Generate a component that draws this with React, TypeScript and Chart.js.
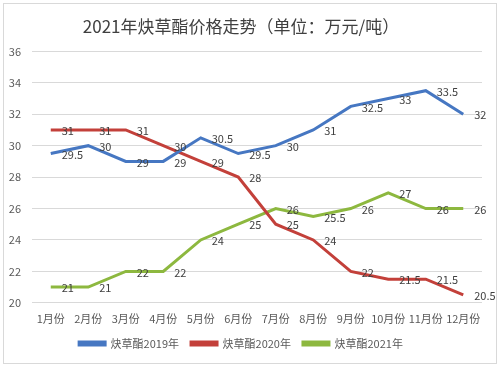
import React, { useEffect, useRef } from "react";
import { Chart, registerables } from "chart.js";

Chart.register(...registerables);

const categories = ["1月份", "2月份", "3月份", "4月份", "5月份", "6月份", "7月份", "8月份", "9月份", "10月份", "11月份", "12月份"];
const series2019 = [29.5, 30, 29, 29, 30.5, 29.5, 30, 31, 32.5, 33, 33.5, 32];
const series2020 = [31, 31, 31, 30, 29, 28, 25, 24, 22, 21.5, 21.5, 20.5];
const series2021 = [21, 21, 22, 22, 24, 25, 26, 25.5, 26, 27, 26, 26];
const seriesNames = ["炔草酯2019年", "炔草酯2020年", "炔草酯2021年"];
const yTicks = { min: 20, max: 36, step: 2 };
const titleText = "2021年炔草酯价格走势（单位：万元/吨）";

const FONT = "'Noto Sans CJK SC', 'Noto Sans', sans-serif";

const labelPlugin = {
  id: "pointLabels",
  afterDatasetsDraw(chart: any) {
    const ctx = chart.ctx;
    ctx.save();
    ctx.font = `11px ${FONT}`;
    ctx.fillStyle = "#404040";
    ctx.textAlign = "left";
    ctx.textBaseline = "middle";
    chart.data.datasets.forEach((ds: any, i: number) => {
      const meta = chart.getDatasetMeta(i);
      meta.data.forEach((pt: any, j: number) => {
        ctx.fillText(String(ds.data[j]), pt.x + 11, pt.y + 1);
      });
    });
    ctx.restore();
  },
};

const framePlugin = {
  id: "frame",
  beforeDraw(chart: any) {
    const ctx = chart.ctx;
    ctx.save();
    ctx.fillStyle = "#ffffff";
    ctx.fillRect(0, 0, chart.width, chart.height);
    ctx.strokeStyle = "#d9d9d9";
    ctx.lineWidth = 1;
    ctx.strokeRect(3.5, 3.5, chart.width - 7, chart.height - 7);
    ctx.restore();
  },
};

export default function App() {
  const ref = useRef<HTMLCanvasElement>(null);
  useEffect(() => {
    document.body.style.margin = "0";
    const colors = ["#4677C2", "#C3403A", "#8DB83F"];
    const data = [series2019, series2020, series2021];
    const chart = new Chart(ref.current!, {
      type: "line",
      data: {
        labels: categories,
        datasets: data.map((d, i) => ({
          label: seriesNames[i],
          data: d,
          borderColor: colors[i],
          backgroundColor: colors[i],
          borderWidth: 3,
          pointRadius: 0,
          tension: 0,
        })),
      },
      options: {
        animation: false,
        responsive: false,
        devicePixelRatio: 1,
        layout: { padding: { left: 0, right: 18, top: 4, bottom: 8 } },
        plugins: {
          title: {
            display: true,
            text: titleText,
            color: "#404040",
            font: { family: FONT, size: 17, weight: "normal" },
            padding: { top: 12, bottom: 15 },
          },
          legend: {
            position: "bottom",
            labels: {
              color: "#595959",
              font: { family: FONT, size: 11 },
              boxWidth: 26,
              boxHeight: 3,
              padding: 12,
            },
          },
          tooltip: { enabled: false },
        },
        scales: {
          x: {
            offset: true,
            grid: { display: false },
            border: { display: false },
            ticks: {
              color: "#595959",
              font: { family: FONT, size: 11 },
              maxRotation: 0,
              autoSkip: false,
              padding: 1,
            },
          },
          y: {
            min: yTicks.min,
            max: yTicks.max,
            grid: { color: "#d9d9d9", drawTicks: false },
            border: { display: false },
            afterFit: (scale: any) => {
              scale.width = 32;
            },
            ticks: {
              stepSize: yTicks.step,
              color: "#595959",
              font: { family: FONT, size: 11 },
              padding: 11,
            },
          },
        },
      },
      plugins: [framePlugin, labelPlugin],
    });
    return () => chart.destroy();
  }, []);
  return <canvas ref={ref} width={500} height={367} style={{ display: "block" }} />;
}
